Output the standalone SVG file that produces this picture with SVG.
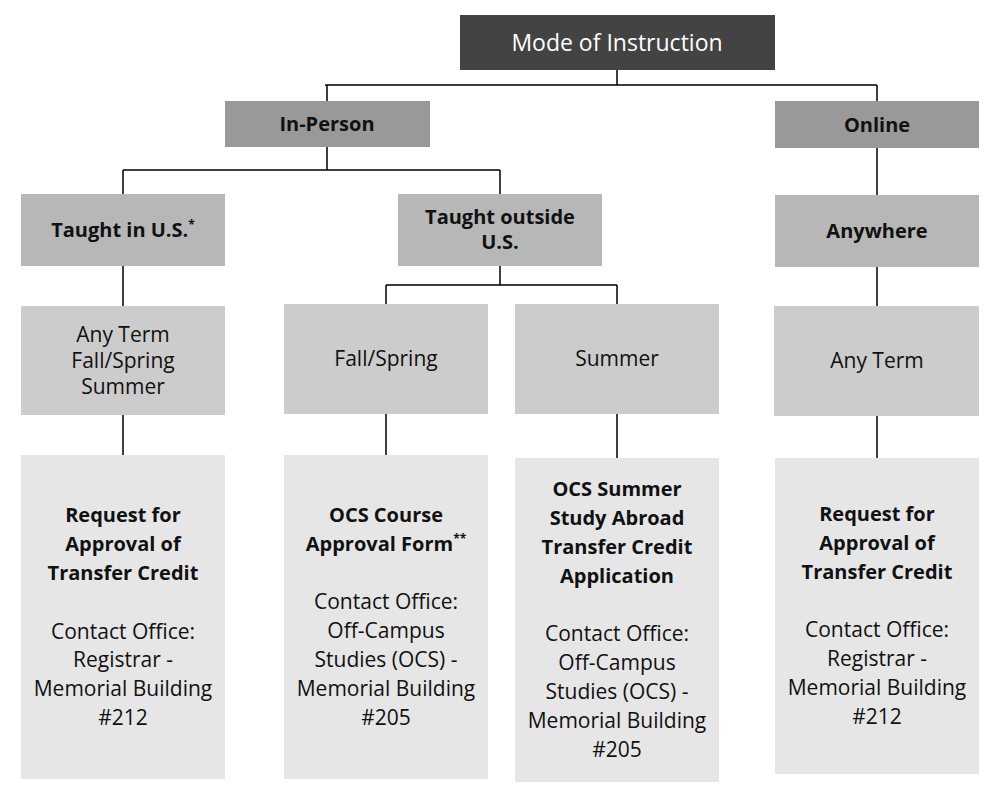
<svg xmlns="http://www.w3.org/2000/svg" width="1001" height="798" viewBox="0 0 1001 798">
<style>
text{font-family:"Open Sans","Liberation Sans",sans-serif;text-anchor:middle;fill:#111}
.b{font-weight:bold;font-size:20px}
.r{font-size:21px}
.root{font-size:23px;fill:#fff}
.c0{fill:#434343}.c1{fill:#999999}.c2{fill:#b7b7b7}.c3{fill:#cccccc}.c4{fill:#e6e6e6}
.sup{font-size:12px}
#connectors path{fill:none;stroke:#000;stroke-width:1.5}
</style>
<rect width="1001" height="798" fill="#fff"/>
<g id="connectors">
<path d="M617 70V85M325 85H877M327 85V101M877 85V101"/>
<path d="M327 147V170M123 170H500M123 170V194M500 170V194"/>
<path d="M877 148V195"/>
<path d="M500 266V285M386 285H617M386 285V304M617 285V304"/>
<path d="M123 266V306M123 415V455"/>
<path d="M386 414V455M617 414V458"/>
<path d="M877 267V306M877 416V458"/>
</g>
<g id="root"><rect class="c0" x="460" y="15" width="315" height="55"/><text class="root" x="617" y="51">Mode of Instruction</text></g>
<g id="inperson"><rect class="c1" x="225" y="101" width="205" height="46"/><text class="b" x="327" y="131">In-Person</text></g>
<g id="online"><rect class="c1" x="775" y="101" width="204" height="47"/><text class="b" x="877" y="132">Online</text></g>
<g id="us"><rect class="c2" x="21" y="194" width="204" height="72"/><text class="b" x="123" y="237">Taught in U.S.<tspan class="sup" dy="-8">*</tspan></text></g>
<g id="outside"><rect class="c2" x="398" y="194" width="204" height="72"/><text class="b" x="500" y="224">Taught outside</text><text class="b" x="500" y="249">U.S.</text></g>
<g id="anywhere"><rect class="c2" x="775" y="195" width="204" height="72"/><text class="b" x="877" y="238">Anywhere</text></g>
<g id="anyterm1"><rect class="c3" x="21" y="306" width="204" height="109"/><text class="r" x="123" y="342">Any Term</text><text class="r" x="123" y="368">Fall/Spring</text><text class="r" x="123" y="394">Summer</text></g>
<g id="fallspring"><rect class="c3" x="284" y="304" width="204" height="110"/><text class="r" x="386" y="366">Fall/Spring</text></g>
<g id="summer"><rect class="c3" x="515" y="304" width="204" height="110"/><text class="r" x="617" y="366">Summer</text></g>
<g id="anyterm2"><rect class="c3" x="774" y="306" width="205" height="110"/><text class="r" x="877" y="368">Any Term</text></g>
<g id="form1"><rect class="c4" x="21" y="455" width="204" height="324"/>
<text class="b" x="123" y="522">Request for</text><text class="b" x="123" y="551">Approval of</text><text class="b" x="123" y="580">Transfer Credit</text>
<text class="r" x="123" y="639">Contact Office:</text><text class="r" x="123" y="667">Registrar -</text><text class="r" x="123" y="696">Memorial Building</text><text class="r" x="123" y="725">#212</text></g>
<g id="form2"><rect class="c4" x="284" y="455" width="204" height="324"/>
<text class="b" x="386" y="522">OCS Course</text><text class="b" x="386" y="551">Approval Form<tspan class="sup" dy="-8">**</tspan></text>
<text class="r" x="386" y="609">Contact Office:</text><text class="r" x="386" y="638">Off-Campus</text><text class="r" x="386" y="667">Studies (OCS) -</text><text class="r" x="386" y="696">Memorial Building</text><text class="r" x="386" y="725">#205</text></g>
<g id="form3"><rect class="c4" x="515" y="458" width="204" height="324"/>
<text class="b" x="617" y="496">OCS Summer</text><text class="b" x="617" y="525">Study Abroad</text><text class="b" x="617" y="554">Transfer Credit</text><text class="b" x="617" y="583">Application</text>
<text class="r" x="617" y="641">Contact Office:</text><text class="r" x="617" y="670">Off-Campus</text><text class="r" x="617" y="699">Studies (OCS) -</text><text class="r" x="617" y="728">Memorial Building</text><text class="r" x="617" y="757">#205</text></g>
<g id="form4"><rect class="c4" x="775" y="458" width="204" height="316"/>
<text class="b" x="877" y="521">Request for</text><text class="b" x="877" y="550">Approval of</text><text class="b" x="877" y="579">Transfer Credit</text>
<text class="r" x="877" y="637">Contact Office:</text><text class="r" x="877" y="666">Registrar -</text><text class="r" x="877" y="695">Memorial Building</text><text class="r" x="877" y="724">#212</text></g>
</svg>
